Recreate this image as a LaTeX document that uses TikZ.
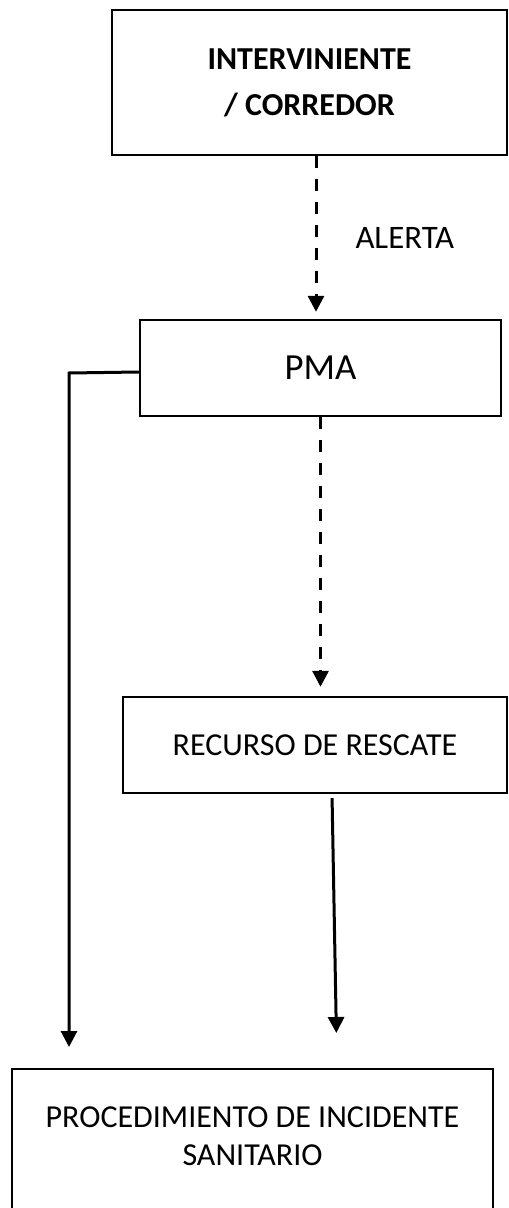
\documentclass[tikz,border=0pt]{standalone}
\usepackage{fontspec}
\setmainfont{Carlito}
\usetikzlibrary{arrows.meta}

\begin{document}
\begin{tikzpicture}[
  x=0.5pt, y=-0.5pt,
  box/.style={draw, line width=1.2pt, align=center, inner sep=0pt},
  flow/.style={line width=1.5pt, -{Triangle[length=8pt,width=8pt]}},
  alert/.style={flow, dash pattern=on 6pt off 5.5pt}
]
\useasboundingbox (0,0) rectangle (508,1208);
\clip (0,0) rectangle (508,1208);
\node[box, minimum width=197.5pt, minimum height=72.5pt,
      font=\bfseries\fontsize{16}{23}\selectfont] (interv) at (309.5,82.5) {INTERVINIENTE\\/ CORREDOR};
\node[box, minimum width=180.5pt, minimum height=48pt,
      font=\fontsize{18.4}{22}\selectfont] (pma) at (320.5,368) {PMA};
\node[box, minimum width=192pt, minimum height=48pt,
      font=\fontsize{16}{19}\selectfont] (rec) at (315,745) {RECURSO DE RESCATE};
\node[box, minimum width=240.5pt, minimum height=100pt, anchor=north] (proc) at (252.5,1068) {};
\node[align=center, inner sep=0pt, font=\fontsize{16}{19}\selectfont] (proctext) at (252.5,1136)
  {PROCEDIMIENTO DE INCIDENTE\\SANITARIO};
\coordinate (bend) at (69,373);
% avisos
\draw[alert, shorten >=3.5pt] ([xshift=3.25pt]interv.south) -- ([xshift=3.25pt]interv.south |- pma.north)
  node[midway, right=19pt, inner sep=0pt, font=\fontsize{16.4}{19}\selectfont] (alerta) {ALERTA};
\draw[alert, shorten >=4.5pt] (pma.south) -- (pma.south |- rec.north);
% derivacion al procedimiento
\draw[flow, shorten <=2pt, shorten >=17.5pt] ([xshift=8.5pt]rec.south) -- ([xshift=42.25pt]proc.north);
\draw[flow, shorten >=10.5pt] ([yshift=-2pt]pma.west) -- (bend) -- (bend |- proc.north);
\end{tikzpicture}
\end{document}
